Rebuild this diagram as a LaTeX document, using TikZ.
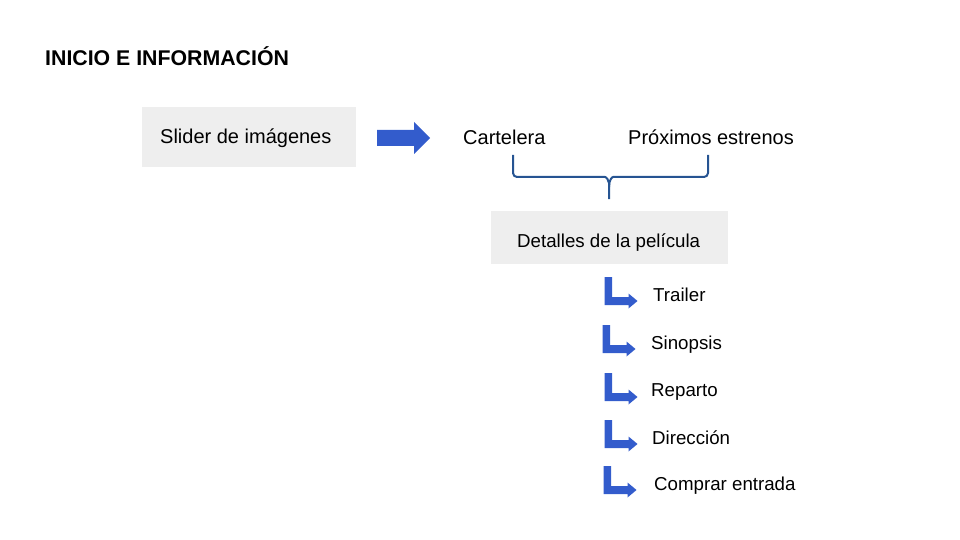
\documentclass[tikz,border=0pt]{standalone}
\usepackage{fontspec}
\setmainfont{Liberation Sans}
\definecolor{arrowblue}{RGB}{51,92,204}
\definecolor{bracketblue}{RGB}{38,84,146}
\definecolor{boxgray}{RGB}{238,238,238}
\tikzset{
  graybox/.style={fill=boxgray, draw=none},
  lbl/.style={anchor=base west, inner sep=0pt, font=\fontsize{20}{24}\selectfont},
  sublbl/.style={anchor=base west, inner sep=0pt, font=\fontsize{18.7}{22}\selectfont},
  bluefill/.style={fill=arrowblue, draw=none},
  bracket/.style={draw=bracketblue, line width=2pt, rounded corners=4pt}
}
\begin{document}
\begin{tikzpicture}[x=1pt, y=-1pt]
\useasboundingbox (0,0) rectangle (960,540);
% title
\node[anchor=base west, inner sep=0pt, font=\fontsize{21.3}{25}\selectfont\bfseries] (title) at (45,66) {INICIO E INFORMACIÓN};
% slider box
\fill[graybox] (142,107) rectangle (356,167);
\node[lbl] (slider) at (160,144) {Slider de imágenes};
% big arrow
\fill[bluefill] (377,130) -- (414,130) -- (414,122) -- (430,138) -- (414,154) -- (414,146) -- (377,146) -- cycle;
\node[lbl] (cartelera) at (463,145) {Cartelera};
\node[lbl] (proximos) at (628,145) {Próximos estrenos};
% bracket
\coordinate (bl) at (513,155);
\coordinate (br) at (708,155);
\coordinate (stem) at (609,199);
\draw[bracket] (bl) -- (513,177) -- (601,177) .. controls (606,177) and (609,180) .. (609,187) -- (stem);
\draw[bracket] (br) -- (708,177) -- (617,177) .. controls (612,177) and (609,180) .. (609,187);
% detalles box
\fill[graybox] (491,211) rectangle (728,264);
\node[sublbl] (detalles) at (517,247) {Detalles de la película};
% L arrows
\foreach \y/\x in {277/604.5, 325/602.5, 373/604.5, 420/604.5, 466/603.5}{
  \fill[bluefill] (\x,\y) -- ({\x+7.5},\y) -- ({\x+7.5},{\y+20}) -- ({\x+24},{\y+20}) -- ({\x+24},{\y+16.5}) -- ({\x+33},{\y+24}) -- ({\x+24},{\y+31.5}) -- ({\x+24},{\y+28}) -- (\x,{\y+28}) -- cycle;
}
\node[sublbl] (trailer) at (653,301) {Trailer};
\node[sublbl] (sinopsis) at (651,349) {Sinopsis};
\node[sublbl] (reparto) at (651,396) {Reparto};
\node[sublbl] (direccion) at (652,444) {Dirección};
\node[sublbl] (comprar) at (654,490) {Comprar entrada};
\end{tikzpicture}
\end{document}
